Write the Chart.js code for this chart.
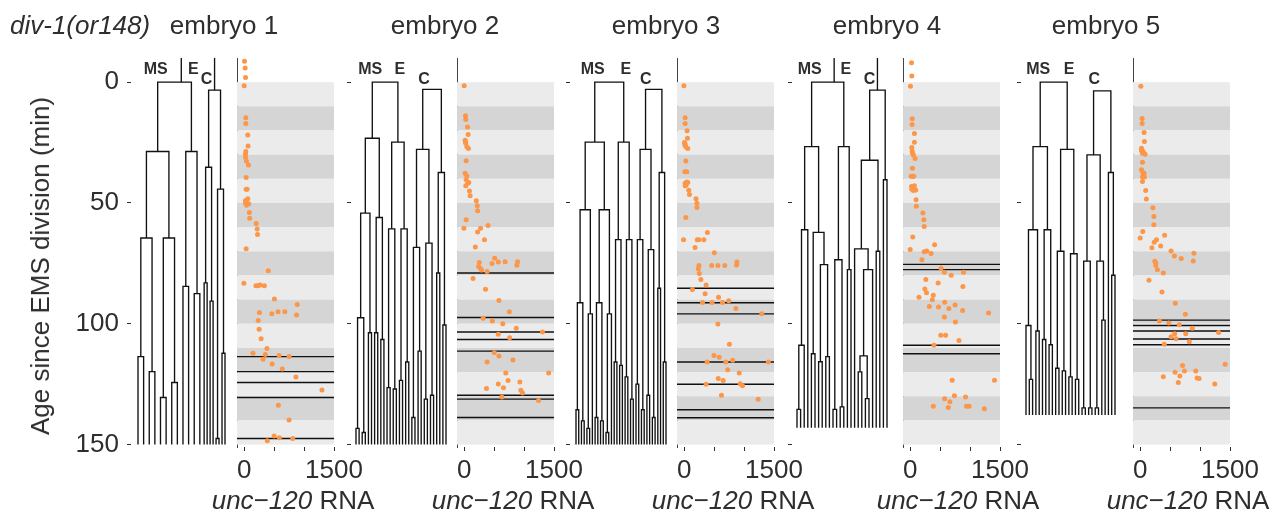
<!DOCTYPE html>
<html>
<head>
<meta charset="utf-8">
<script src="https://cdn.jsdelivr.net/npm/chart.js@4.4.0/dist/chart.umd.min.js"></script>
<style>
  body { margin: 0; background: #fff; }
  #fig { position: relative; width: 1283px; height: 517px; overflow: hidden; font-family: "Liberation Sans", Arial, sans-serif; color: #2e2e2e; }
  .box { position: absolute; top: 0; height: 517px; }
  .txt { position: absolute; font-size: 26px; line-height: 26px; white-space: nowrap; }
</style>
</head>
<body>
<div id="fig"></div>
<script>
// ---- data ----
const embryoNames = ['embryo 1', 'embryo 2', 'embryo 3', 'embryo 4', 'embryo 5'];
const ageTicks = [0, 50, 100, 150];
const rnaTicks = [0, 500, 1000, 1500];
const rnaTickLabels = ['0', '', '', '1500'];
const bandEdges = [0, 10, 20, 30, 40, 50, 60, 70, 80, 90, 100, 110, 120, 130, 140, 150];
const lineageNames = ['MS', 'E', 'C'];

// lineage trees: [division time, daughter, daughter], 0 = cell still alive at end of movie
const msTrees = [
  [28.7, [64.5, [113.6, 0, 0], [119.8, 0, 0]], [64.5, [130.5, 0, 0], [124.3, 0, 0]]],
  [23.2, [54.2, [97.5, [143.3, 0, 0], [145, 0, 0]], [103.7, 0, 0]], [56, [103.7, 0, 0], [106.5, 0, 0]]],
  [24.8, [52.8, [91.3, [135.6, 0, 0], [140.2, 0, 0]], [95.9, [143.3, 0, 0], 0]], [52.8, [91.3, [138.8, 0, 0], [140.2, 0, 0]], [95.9, [145, 0, 0], 0]]],
  [26.7, [61.1, [108.9, [135.4, 0, 0], 0], 0], [62.2, [112.4, 0, 0], [75.5, [115.7, 0, 0], [113.6, 0, 0]]]],
  [26.7, [61.1, [100.7, 0, [123, 0, 0]], [103, 0, 0]], [61.1, [106.5, 0, 0], [108.7, 0, 0]]]
];
const eTrees = [
  [28.7, [84.5, 0, 0], [87.5, 0, 0]],
  [24.8, [60.7, [126.4, 0, 0], [127, 0, 0]], [60.7, [123.4, 0, 0], [115.8, 0, 0]]],
  [24.8, [65.2, [115.8, 0, 0], [117.2, 0, 0]], [65.2, [122, 0, 0], [131.2, 0, 0]]],
  [26.7, [73.5, [135.4, 0, 0], [134.4, 0, 0]], [77.6, 0, 0]],
  [27.8, [70, [118.4, 0, 0], [119.5, 0, 0]], [71, [122, 0, 0], [123, 0, 0]]]
];
const cTrees = [
  [3.3, [35.2, [83.1, 0, 0], [90.6, 0, 0]], [44.3, [147.5, 0, 0], [112.2, 0, 0]]],
  [3, [27.8, [68.4, [138.8, 0, 0], [111.3, 0, 0]], [66.6, [131.2, 0, 0], [129.6, 0, 0]]], [37.4, [79, 0, 0], [100.5, 0, 0]]],
  [3, [27.8, [65.2, [125, 0, 0], [135.6, 0, 0]], [69.3, [129.6, 0, 0], [138.8, 0, 0]]], [37.4, [85.3, 0, 0], [115.8, 0, 0]]],
  [3.3, [32.3, [69, 0, [77.6, [113.3, [119.9, 0, 0], [131, 0, 0]], 0]], [70, 0, 0]], [40.4, 0, 0]],
  [3.6, [30.1, [74.1, [134.8, 0, 0], [134.8, 0, 0]], [74.1, [134.8, 0, 0], [98.5, 0, 0]]], [37.4, 0, [79.9, 0, 0]]]
];
const emsDivision = [0, 0, 0, 0, 0];
const movieEnd = [150, 150, 150, 143, 137.8];

// unc-120 RNA counts (x) against age (y)
const rna1 = [5,16,22,0,27,27,60,65,27,22,22,38,71,33,33,49,60,22,22,76,43,87,92,201,217,223,33,402,-5,196,228,266,337,505,255,565,679,462,886,875,234,250,283,380,147,353,582,750,315,467,636,864,1299,571,750,500,587,810,386];
const age1 = [-8.7,-5.9,-1.9,1.5,14.7,17.1,21.9,26.4,28.7,29.7,31.1,32.6,34.3,39.5,44.3,44.3,48.3,49.0,50.1,50.3,50.9,53.9,56.3,58.5,60.8,63.1,68.9,78.1,83.2,84.3,84.3,83.9,84.3,89.7,95.3,95.0,95.0,95.9,92.0,96.4,98.6,102.3,106.2,110.2,112.2,112.7,113.1,113.5,114.7,116.6,118.7,122.0,127.4,133.7,139.8,146.4,147.2,147.5,148.4];
const rna2 = [0,22,27,55,66,16,22,27,44,71,33,16,44,33,77,60,27,88,99,202,219,224,33,399,-5,274,224,339,186,509,465,569,684,892,880,252,241,268,290,383,148,356,580,755,317,470,645,870,1307,569,760,503,580,383,815,695,1411,733,569,930,372,656,946,974,629,1242];
const age2 = [1.5,13.9,15.5,18.6,21.7,24.0,24.8,25.3,26.7,27.5,32.5,37.7,38.8,40.4,41.5,41.8,42.9,45.0,47.0,49.1,51.2,53.2,56.9,59.3,60.5,60.5,62.0,65.2,68.2,72.9,75.1,74.4,74.3,74.3,75.8,74.6,76.3,77.0,77.7,78.4,81.3,85.7,90.4,95.0,97.7,98.9,100.0,101.9,103.4,104.3,105.8,112.0,113.3,115.8,115.0,120.4,120.4,123.5,124.9,124.1,126.8,126.5,127.5,128.7,130.3,131.8];
const rna3 = [-5,16,16,49,55,5,11,16,27,60,27,11,44,16,44,60,33,16,77,88,197,213,213,27,388,-11,219,246,328,181,503,246,235,252,279,459,563,678,875,881,137,350,366,574,306,465,640,744,864,1296,563,755,498,585,810,383,695,1406,727,919,569,651,366,935,974,623,1236];
const age3 = [1.5,14.7,17.1,20.1,23.2,25.0,26.0,25.6,26.7,27.5,32.6,37.1,37.1,41.8,41.3,41.5,42.6,42.9,44.7,46.5,48.3,50.1,51.9,56.0,62.2,65.2,65.2,65.2,65.2,68.4,70.6,75.9,77.2,79.2,81.7,75.9,75.9,75.9,75.7,74.4,85.8,87.6,83.9,89.0,91.2,91.2,91.2,90.5,93.7,95.9,100.1,108.5,113.1,113.9,115.1,115.8,115.8,115.8,119.0,120.4,122.7,123.5,125.0,124.8,125.7,129.6,131.2];
const rna4 = [22,27,5,33,33,71,71,27,33,38,54,82,38,16,38,60,22,43,71,92,27,54,98,103,212,228,234,43,0,408,234,277,348,196,516,571,685,891,261,467,880,245,272,386,147,370,321,473,576,647,750,875,1310,571,755,511,592,815,397,701,1408,576,739,924,663,386,636,940,984,1239];
const age4 = [-8.0,-2.6,1.7,15.1,17.5,21.2,24.9,27.0,28.5,29.4,30.1,31.6,35.6,38.9,38.9,38.9,43.2,43.2,42.9,44.6,44.3,44.8,48.7,51.4,54.2,56.9,59.7,64.1,69.3,67.3,70.2,69.9,70.9,73.5,77.0,78.7,79.9,78.7,81.7,83.1,84.6,85.6,87.2,88.2,89.0,90.1,92.8,93.1,91.1,93.7,92.2,94.5,95.5,97.2,99.3,104.7,104.7,106.9,108.9,123.4,123.4,131.0,129.8,130.3,132.3,134.1,134.7,134.1,134.1,135.2];
const rna5 = [11,33,33,65,71,22,22,27,49,38,82,38,22,43,65,38,71,38,92,103,212,228,228,43,0,408,234,272,196,342,516,571,685,897,886,245,261,261,288,386,147,364,587,755,321,478,652,870,1310,576,516,598,761,821,402,1419,707,582,739,929,663,951,984,636,386,1245];
const age5 = [1.7,15.0,17.1,20.8,24.6,27.4,28.1,28.5,28.7,29.4,29.8,33.1,36.3,37.3,37.7,39.1,39.3,41.1,44.8,48.4,52.0,55.6,59.0,61.8,64.5,63.4,66.3,65.2,68.5,67.8,69.9,71.9,73.0,70.8,74.0,74.1,74.8,75.9,77.6,79.0,82.0,86.8,91.5,96.1,98.9,99.7,100.4,101.9,103.6,104.1,105.4,106.2,104.1,107.4,108.5,116.8,117.3,120.1,119.5,119.5,121.6,122.4,122.7,124.3,121.9,124.9];

// division times marked across the RNA panels
const lines1 = [113.6, 119.8, 124.3, 130.5, 147.5];
const lines2 = [79.0, 97.4, 103.4, 106.5, 111.3, 129.6, 131.2, 138.8];
const lines3 = [85.3, 91.3, 95.9, 115.8, 125.0, 135.6, 138.9];
const lines4 = [75.4, 77.6, 108.9, 112.4];
const lines5 = [98.5, 100.7, 103.0, 106.3, 108.7, 134.8];

const rnaSets = [rna1, rna2, rna3, rna4, rna5];
const ageSets = [age1, age2, age3, age4, age5];
const lineSets = [lines1, lines2, lines3, lines4, lines5];

// ---- layout / style ----
const FONT = '"Liberation Sans", Arial, sans-serif';
const INK = '#2e2e2e';
const ORANGE = 'rgb(252,150,72)';
const BAND_LIGHT = '#ebebeb', BAND_DARK = '#d5d5d5';
const AGE_MIN = -10, AGE_MAX = 151, RNA_MIN = -120, RNA_MAX = 1500;
const PAD_TOP = 58, AREA_BOTTOM = 447, FIG_H = 517;

const treeAreaLeft = [131, 351, 570, 792, 1021];
const treeLeafLeft = [138, 356, 576, 797, 1026];
const treeLeafRight = [225, 446, 666, 887, 1115];
const scatterLeft = [235, 455, 675, 901, 1131];
const scatterRight = [334, 554, 774, 1000, 1230];
const leafWidth = [[1, 1, 0.53], [1, 1, 1], [1, 1, 1], [1, 1, 1], [1, 1, 1]];
const showStem = [true, false, false, true, false];
const titleX = [224, 445, 666, 887, 1106];
const xTitleX = [293, 513, 733, 958, 1188];

const fig = document.getElementById('fig');

function addText(html, x, y, tf) {
  const d = document.createElement('div');
  d.className = 'txt';
  d.innerHTML = html;
  d.style.left = x + 'px';
  d.style.top = y + 'px';
  d.style.transform = tf || 'translate(-50%, -50%)';
  fig.appendChild(d);
}

function makeCanvas(left, width) {
  const box = document.createElement('div');
  box.className = 'box';
  box.style.left = left + 'px';
  box.style.width = width + 'px';
  const cv = document.createElement('canvas');
  box.appendChild(cv);
  fig.appendChild(box);
  return cv;
}

function ageAxis(extra) {
  return Object.assign({
    type: 'linear', position: 'left', reverse: true, min: AGE_MIN, max: AGE_MAX,
    afterBuildTicks: s => { s.ticks = ageTicks.map(v => ({ value: v })); }
  }, extra);
}

const bandPlugin = {
  id: 'bands',
  beforeDatasetsDraw(chart) {
    const { ctx, scales: { x, y } } = chart;
    const x0 = x.getPixelForValue(RNA_MIN), x1 = x.getPixelForValue(RNA_MAX);
    ctx.save();
    for (let k = 0; k < bandEdges.length - 1; k++) {
      const y0 = y.getPixelForValue(bandEdges[k]);
      const y1 = y.getPixelForValue(bandEdges[k + 1]);
      ctx.fillStyle = k % 2 ? BAND_DARK : BAND_LIGHT;
      ctx.fillRect(x0, y0, x1 - x0, y1 - y0);
    }
    ctx.restore();
  }
};

function treeChart(i) {
  const segs = [], leaves = [];
  let cursor = 0;
  function place(node, w) {
    if (!node) {
      const x = cursor + w / 2;
      cursor += w;
      leaves.push(x);
      return { x: x, t: movieEnd[i] };
    }
    const a = place(node[1], w), b = place(node[2], w);
    segs.push([[a.x, a.t], [a.x, node[0]], [b.x, node[0]], [b.x, b.t]]);
    return { x: (a.x + b.x) / 2, t: node[0] };
  }
  const ms = place(msTrees[i], leafWidth[i][0]);
  const e = place(eTrees[i], leafWidth[i][1]);
  const c = place(cTrees[i], leafWidth[i][2]);
  const t0 = emsDivision[i];
  segs.push([[ms.x, ms.t], [ms.x, t0], [e.x, t0], [e.x, e.t]]);
  if (showStem[i]) {
    const stemX = ms.x + (e.x - ms.x) * 0.7;
    segs.push([[stemX, AGE_MIN], [stemX, t0]]);
    segs.push([[c.x, AGE_MIN], [c.x, c.t]]);
  }

  const first = leaves[0], last = leaves[leaves.length - 1];
  const k = (last - first) / (treeLeafRight[i] - treeLeafLeft[i]);
  const areaRight = treeLeafRight[i] + 3;
  const xmin = first - (treeLeafLeft[i] - treeAreaLeft[i]) * k;
  const xmax = last + (areaRight - treeLeafRight[i]) * k;
  const axisW = i === 0 ? 131 : 20;

  const labels = [
    { text: lineageNames[0], x: ms.x, t: -5, dx: -2 },
    { text: lineageNames[1], x: e.x, t: -5, dx: 2 },
    { text: lineageNames[2], x: c.x, t: -1, dx: -8 }
  ];
  const labelPlugin = {
    id: 'lineageLabels',
    afterDatasetsDraw(chart) {
      const { ctx, scales } = chart;
      ctx.save();
      ctx.font = 'bold 16px ' + FONT;
      ctx.fillStyle = INK;
      ctx.textAlign = 'center';
      ctx.textBaseline = 'middle';
      labels.forEach(l => ctx.fillText(l.text, scales.x.getPixelForValue(l.x) + l.dx, scales.y.getPixelForValue(l.t)));
      ctx.restore();
    }
  };

  const cv = makeCanvas(treeAreaLeft[i] - axisW, axisW + areaRight - treeAreaLeft[i]);
  new Chart(cv, {
    type: 'scatter',
    data: {
      datasets: segs.map(s => ({
        data: s.map(p => ({ x: p[0], y: p[1] })),
        showLine: true, borderColor: '#111', borderWidth: 1.35,
        pointRadius: 0, fill: false, borderJoinStyle: 'miter', borderCapStyle: 'butt'
      }))
    },
    options: {
      responsive: true, maintainAspectRatio: false, animation: false, devicePixelRatio: 1, events: [],
      layout: { padding: { top: PAD_TOP, bottom: FIG_H - AREA_BOTTOM, left: 0, right: 0 } },
      plugins: { legend: { display: false }, tooltip: { enabled: false } },
      scales: {
        x: { type: 'linear', display: false, min: xmin, max: xmax },
        y: ageAxis({
          afterFit: s => { s.width = axisW; s.paddingTop = 0; s.paddingBottom = 0; },
          grid: { display: true, drawOnChartArea: false, drawTicks: true, tickLength: 4, color: INK, lineWidth: 1 },
          border: { display: false },
          ticks: { display: i === 0, padding: 8, color: INK, font: { family: FONT, size: 26 }, callback: v => String(v) }
        })
      }
    },
    plugins: [labelPlugin]
  });
}

function rnaChart(i) {
  const pts = rnaSets[i].map((v, j) => ({ x: v, y: ageSets[i][j] }));
  const datasets = [{
    data: pts, pointRadius: 2.5, pointBackgroundColor: ORANGE, pointBorderWidth: 0, showLine: false
  }];
  lineSets[i].forEach(t => datasets.push({
    data: [{ x: RNA_MIN, y: t }, { x: RNA_MAX, y: t }],
    showLine: true, borderColor: '#111', borderWidth: 1.4, pointRadius: 0, fill: false
  }));
  const cv = makeCanvas(scatterLeft[i] - 2, 2 + scatterRight[i] - scatterLeft[i] + 36);
  new Chart(cv, {
    type: 'scatter',
    data: { datasets: datasets },
    options: {
      responsive: true, maintainAspectRatio: false, animation: false, devicePixelRatio: 1, events: [],
      layout: { padding: { top: PAD_TOP, bottom: 0, left: 2, right: 36 } },
      plugins: { legend: { display: false }, tooltip: { enabled: false } },
      scales: {
        x: {
          type: 'linear', position: 'bottom', min: RNA_MIN, max: RNA_MAX,
          afterBuildTicks: s => { s.ticks = rnaTicks.map(v => ({ value: v })); },
          afterFit: s => { s.height = FIG_H - AREA_BOTTOM; s.paddingLeft = 0; s.paddingRight = 0; },
          grid: { display: true, drawOnChartArea: false, drawTicks: true, tickLength: 4, color: INK, lineWidth: 1 },
          border: { display: false },
          ticks: {
            autoSkip: false, maxRotation: 0, padding: 4, color: INK, font: { family: FONT, size: 26 },
            callback: v => rnaTickLabels[rnaTicks.indexOf(v)]
          }
        },
        y: ageAxis({
          z: 1,
          afterFit: s => { s.width = 0; s.paddingTop = 0; s.paddingBottom = 0; },
          grid: { display: false },
          ticks: { display: false },
          border: { display: true, color: '#444', width: 1 }
        })
      }
    },
    plugins: [bandPlugin]
  });
}

for (let i = 0; i < embryoNames.length; i++) {
  treeChart(i);
  rnaChart(i);
  addText(embryoNames[i], titleX[i], 25);
  addText('<i>unc\u2212120</i> RNA', xTitleX[i], 500);
}
addText('<i>div-1(or148)</i>', 10, 25, 'translateY(-50%)');
addText('Age since EMS division (min)', 40, 266, 'translate(-50%, -50%) rotate(-90deg)');
</script>
</body>
</html>
